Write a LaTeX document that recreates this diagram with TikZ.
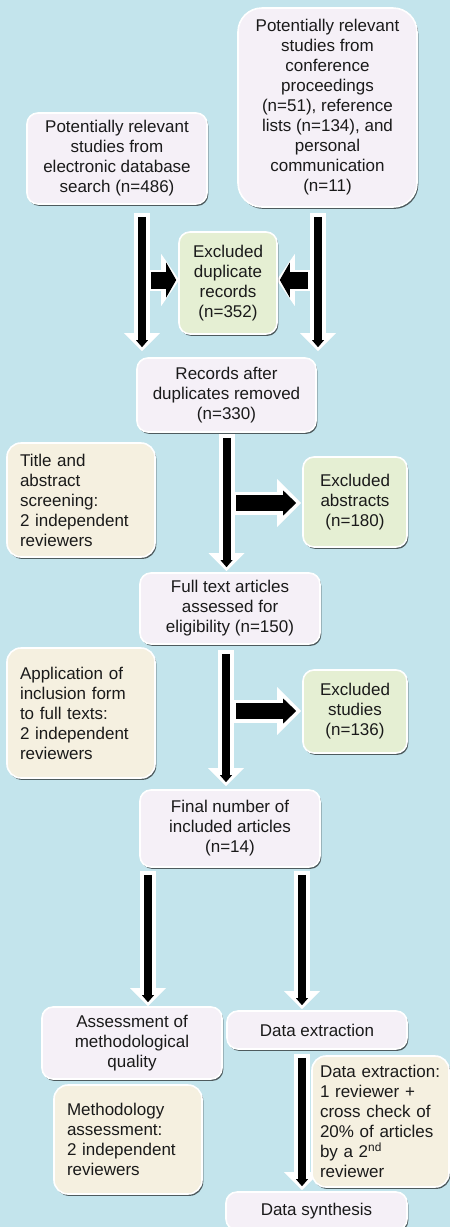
\documentclass[tikz,border=0pt]{standalone}
\usepackage{fontspec}
\setmainfont{Liberation Sans}
\usetikzlibrary{arrows.meta,calc,shadows}
\definecolor{bg}{HTML}{C3E4EC}
\definecolor{lav}{HTML}{F5F0F7}
\definecolor{grn}{HTML}{E5EFD3}
\definecolor{tanc}{HTML}{F5F0E0}
\definecolor{txt}{HTML}{1A1A1A}
\pgfdeclarelayer{bglayer}
\pgfdeclarelayer{arrowlayer}
\pgfsetlayers{bglayer,arrowlayer,main}
\tikzset{
  box/.style={rounded corners=11pt, draw=white, line width=1.6pt, text=txt,
    align=center, inner sep=0pt, font=\fontsize{17pt}{20pt}\selectfont,
    drop shadow={shadow xshift=1.3pt, shadow yshift=-1.9pt, fill=black, opacity=0.6}},
  lavbox/.style={box, fill=lav},
  grnbox/.style={box, fill=grn},
  tanbox/.style={box, fill=tanc, align=left, rounded corners=14pt},
  wv/.style={draw=white, line width=16pt, -{Triangle[width=36pt,length=18pt,line width=0pt]}},
  bv/.style={draw=black, line width=8pt, shorten <=4pt, shorten >=4pt, -{Triangle[width=12pt,length=7pt,line width=0pt]}},
  wh/.style={draw=white, line width=23pt, -{Triangle[width=48pt,length=24pt,line width=0pt]}},
  bh/.style={draw=black, line width=16pt, shorten <=4pt, shorten >=5pt, -{Triangle[width=25pt,length=13pt,line width=0pt]}},
  ws/.style={draw=white, line width=21pt, -{Triangle[width=52pt,length=18pt,line width=0pt]}},
  bs/.style={draw=black, line width=17pt, shorten <=2pt, shorten >=3pt, -{Triangle[width=35pt,length=10pt,line width=0pt]}},
}
\begin{document}
\begin{tikzpicture}[x=1pt,y=1pt]
\begin{pgfonlayer}{bglayer}
\fill[bg] (0,0) rectangle (450,-1227);
\end{pgfonlayer}
\useasboundingbox (0,0) rectangle (450,-1227);

\node[lavbox, minimum width=180pt, minimum height=91pt] (db) at (117,-158.5)
    {Potentially relevant\\studies from\\electronic database\\search (n=486)};
\node[lavbox, rounded corners=24pt, minimum width=179pt, minimum height=199pt] (conf) at (327.5,-107.5)
    {Potentially relevant\\studies from\\conference\\proceedings\\(n=51), reference\\lists (n=134), and\\personal\\communication\\(n=11)};
\node[grnbox, minimum width=98pt, minimum height=102pt] (dup) at (228,-283)
    {Excluded\\duplicate\\records\\(n=352)};
\node[lavbox, minimum width=179pt, minimum height=74pt] (rec) at (226.5,-395)
    {Records after\\duplicates removed\\(n=330)};
\node[tanbox, minimum width=148pt, minimum height=114pt, text width=122pt] (title) at (81,-500)
    {Title and\\abstract\\screening:\\2 independent\\reviewers};
\node[grnbox, minimum width=104pt, minimum height=90pt] (exabs) at (355,-502)
    {Excluded\\abstracts\\(n=180)};
\node[lavbox, minimum width=180pt, minimum height=71pt] (full) at (230,-608.5)
    {Full text articles\\assessed for\\eligibility (n=150)};
\node[tanbox, minimum width=148pt, minimum height=130pt, text width=122pt] (app) at (81,-713)
    {Application of\\inclusion form\\to full texts:\\2 independent\\reviewers};
\node[grnbox, minimum width=104pt, minimum height=83pt] (exstud) at (355,-711.5)
    {Excluded\\studies\\(n=136)};
\node[lavbox, minimum width=180pt, minimum height=77pt] (final) at (230,-828.5)
    {Final number of\\included articles\\(n=14)};
\node[lavbox, minimum width=180pt, minimum height=72pt] (assess) at (132,-1043)
    {Assessment of\\methodological\\quality};
\node[lavbox, minimum width=180pt, minimum height=38pt] (dataex) at (317,-1030)
    {Data extraction};
\node[tanbox, minimum width=148pt, minimum height=109pt, text width=122pt] (meth) at (128,-1139.5)
    {Methodology\\assessment:\\2 independent\\reviewers};
\node[lavbox, minimum width=181pt, minimum height=38pt] (synth) at (316.5,-1211)
    {Data synthesis};
\node[tanbox, minimum width=137pt, minimum height=131pt, text width=121pt] (dxnote) at (380.5,-1121.5)
    {Data extraction:\\1 reviewer +\\cross check of\\20\% of articles\\by a 2\textsuperscript{nd}\\reviewer};

\begin{pgfonlayer}{arrowlayer}
% db -> rec
\draw[wv] ($(db.south)+(25pt,-8pt)$) -- ($(db.south |- rec.north)+(25pt,6pt)$);
\draw[bv] ($(db.south)+(25pt,-8pt)$) -- ($(db.south |- rec.north)+(25pt,6pt)$);
% conf -> rec
\draw[wv] ($(conf.south)+(-9.5pt,-5pt)$) -- ($(conf.south |- rec.north)+(-9.5pt,6pt)$);
\draw[bv] ($(conf.south)+(-9.5pt,-5pt)$) -- ($(conf.south |- rec.north)+(-9.5pt,6pt)$);
% side arrows into dup
\draw[ws] ($(dup.west)+(-29pt,3pt)$) -- ($(dup.west)+(1pt,3pt)$);
\draw[bs] ($(dup.west)+(-29pt,3pt)$) -- ($(dup.west)+(1pt,3pt)$);
\draw[ws] ($(dup.east)+(32pt,3pt)$) -- ($(dup.east)+(-1pt,3pt)$);
\draw[bs] ($(dup.east)+(32pt,3pt)$) -- ($(dup.east)+(-1pt,3pt)$);
% rec -> full
\draw[wv] ($(rec.south)+(0pt,-1pt)$) -- ($(rec.south |- full.north)+(0pt,1pt)$);
\draw[bv] ($(rec.south)+(0pt,-1pt)$) -- ($(rec.south |- full.north)+(0pt,1pt)$);
% -> exabs
\draw[wh] ($(exabs.west)+(-70pt,-1pt)$) -- ($(exabs.west)+(-1pt,-1pt)$);
\draw[bh] ($(exabs.west)+(-70pt,-1pt)$) -- ($(exabs.west)+(-1pt,-1pt)$);
% full -> final
\draw[wv] ($(full.south)+(-4pt,-5pt)$) -- ($(full.south |- final.north)+(-4pt,3pt)$);
\draw[bv] ($(full.south)+(-4pt,-5pt)$) -- ($(full.south |- final.north)+(-4pt,3pt)$);
% -> exstud
\draw[wh] ($(exstud.west)+(-70pt,0.5pt)$) -- ($(exstud.west)+(-1pt,0.5pt)$);
\draw[bh] ($(exstud.west)+(-70pt,0.5pt)$) -- ($(exstud.west)+(-1pt,0.5pt)$);
% final -> assess
\draw[wv] ($(final.south)+(-82pt,-3pt)$) -- ($(final.south |- assess.north)+(-82pt,0pt)$);
\draw[bv] ($(final.south)+(-82pt,-3pt)$) -- ($(final.south |- assess.north)+(-82pt,0pt)$);
% final -> dataex
\draw[wv] ($(final.south)+(72pt,-3pt)$) -- ($(final.south |- dataex.north)+(72pt,1pt)$);
\draw[bv] ($(final.south)+(72pt,-3pt)$) -- ($(final.south |- dataex.north)+(72pt,1pt)$);
% dataex -> synth
\draw[wv] ($(dataex.south)+(-15pt,-4pt)$) -- ($(dataex.south |- synth.north)+(-15pt,1pt)$);
\draw[bv] ($(dataex.south)+(-15pt,-4pt)$) -- ($(dataex.south |- synth.north)+(-15pt,1pt)$);
\end{pgfonlayer}
\end{tikzpicture}
\end{document}
